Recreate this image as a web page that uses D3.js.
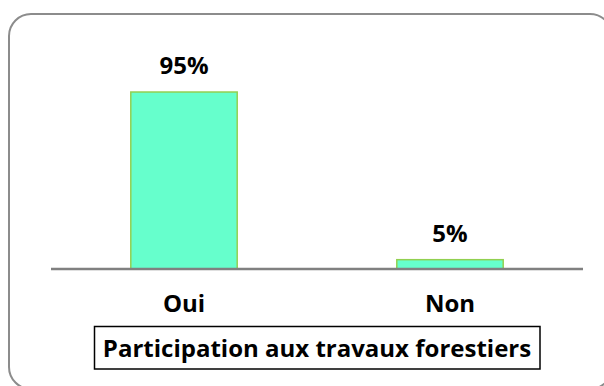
<!DOCTYPE html>
<html>
<head>
<meta charset="utf-8">
<script src="https://cdn.jsdelivr.net/npm/d3@7"></script>
<style>
  html, body { margin: 0; padding: 0; background: #fff; }
  svg { display: block; }
  text { font-family: "Open Sans", "DejaVu Sans", sans-serif; font-weight: bold; fill: #000; }
</style>
</head>
<body>
<svg id="chart" width="604" height="386"></svg>
<script>
// Share of respondents taking part in forestry work
const categories = ["Oui", "Non"];
const values = [95, 5];
const valueLabels = ["95%", "5%"];
const axisTitle = "Participation aux travaux forestiers";

const svg = d3.select("#chart");

// Rounded frame of the chart area
svg.append("rect")
  .attr("x", 9).attr("y", 14)
  .attr("width", 603).attr("height", 375)
  .attr("rx", 22).attr("ry", 22)
  .attr("fill", "#fff")
  .attr("stroke", "#8c8c8c")
  .attr("stroke-width", 2);

const plot = { left: 51, right: 583, bottom: 269 };

const x = d3.scaleBand()
  .domain(categories)
  .range([plot.left, plot.right])
  .paddingInner(0.6)
  .paddingOuter(0.3);

const y = d3.scaleLinear()
  .domain([0, 100])
  .range([plot.bottom, plot.bottom - 186.3]);

const FONT = 24;

// Bars
svg.append("g").selectAll("rect")
  .data(values)
  .join("rect")
  .attr("x", (d, i) => x(categories[i]))
  .attr("y", d => y(d))
  .attr("width", x.bandwidth())
  .attr("height", d => y(0) - y(d))
  .attr("fill", "#66ffcc")
  .attr("stroke", "#92d050")
  .attr("stroke-width", 1.5);

// Value labels above bars
svg.append("g").selectAll("text")
  .data(values)
  .join("text")
  .attr("x", (d, i) => x(categories[i]) + x.bandwidth() / 2)
  .attr("y", d => y(d) - 18)
  .attr("text-anchor", "middle")
  .attr("font-size", FONT)
  .text((d, i) => valueLabels[i]);

// Category axis
const axis = d3.axisBottom(x).tickSize(0).tickPadding(0);
const gx = svg.append("g")
  .attr("transform", `translate(0,${plot.bottom})`)
  .call(axis);
gx.attr("font-family", null).attr("font-size", null);
gx.select(".domain")
  .attr("stroke", "#808080")
  .attr("stroke-width", 2.5)
  .attr("d", `M${plot.left},0H${plot.right}`);
gx.selectAll(".tick text")
  .attr("dy", null)
  .attr("y", 43)
  .attr("font-size", FONT)
  .attr("fill", "#000");

// Boxed axis title
const titleG = svg.append("g");
titleG.append("rect")
  .attr("x", 94.5).attr("y", 326.5)
  .attr("width", 445.5).attr("height", 42.5)
  .attr("fill", "#fff")
  .attr("stroke", "#000")
  .attr("stroke-width", 1.5);
titleG.append("text")
  .attr("x", 317)
  .attr("y", 357)
  .attr("text-anchor", "middle")
  .attr("font-size", FONT)
  .text(axisTitle);
</script>
</body>
</html>
